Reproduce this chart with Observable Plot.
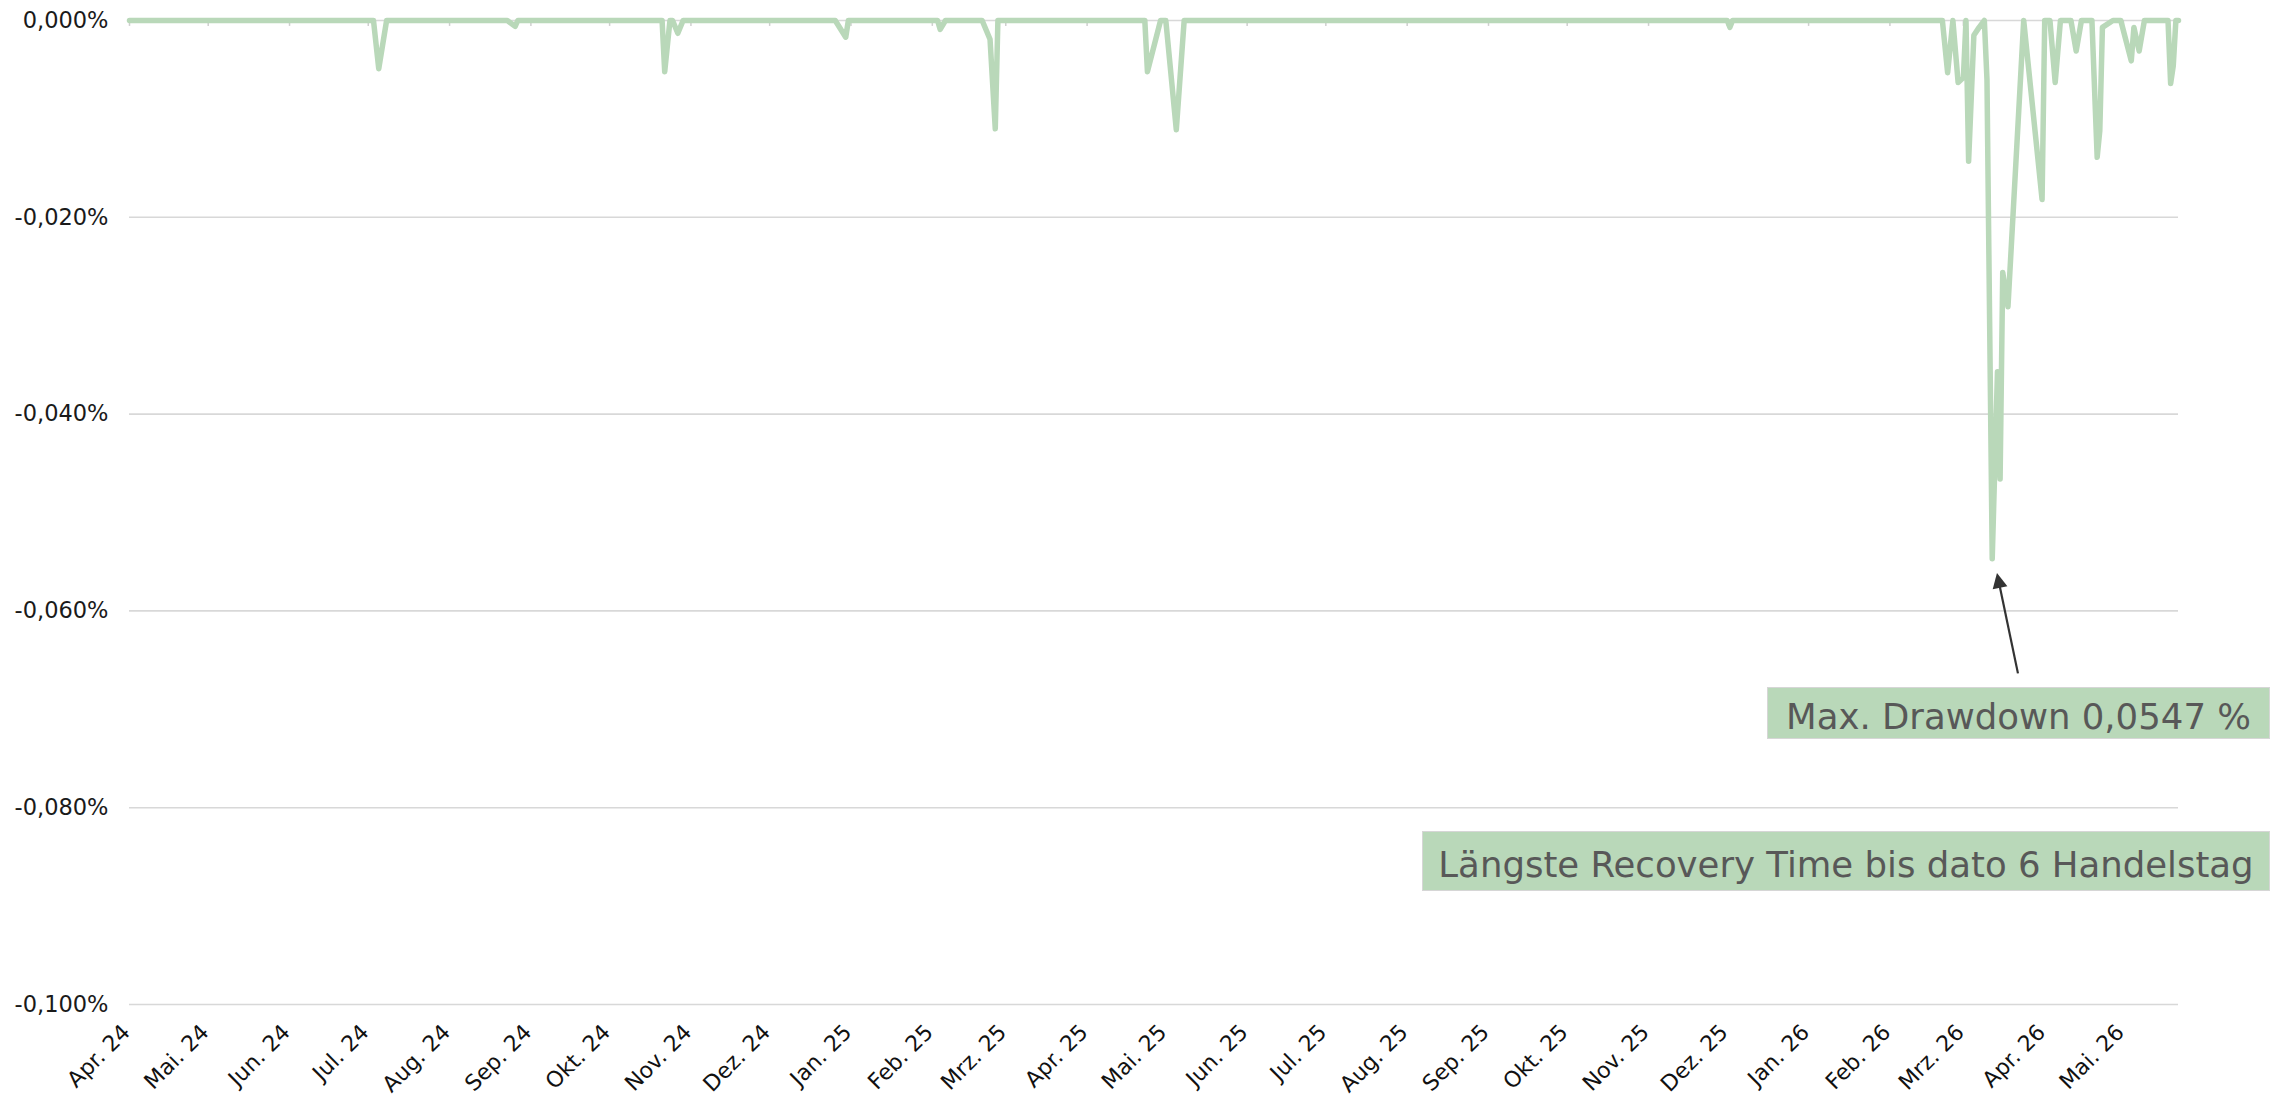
<!DOCTYPE html>
<html><head><meta charset="utf-8">
<script src="https://cdn.jsdelivr.net/npm/d3@7"></script>
<script src="https://cdn.jsdelivr.net/npm/@observablehq/plot@0.6"></script>
<style>
html,body{margin:0;padding:0;background:#fff;}
#wrap{position:relative;width:2271px;height:1102px;overflow:hidden;background:#fff;}
#wrap svg{position:absolute;left:0;top:0;}
.note{position:absolute;box-sizing:border-box;background:#b9d8b9;border:1.5px solid #d6d6d6;color:#585858;font-family:"DejaVu Sans";font-size:35.5px;text-align:center;white-space:nowrap;}
</style></head><body><div id="wrap"></div>
<script>
// Drawdown series (percent), vertices
const dates = [
  "2024-04-01","2024-07-03","2024-07-05","2024-07-08",
  "2024-08-23","2024-08-26","2024-08-27",
  "2024-10-21","2024-10-22","2024-10-24","2024-10-25","2024-10-27","2024-10-29",
  "2024-12-26","2024-12-30","2024-12-31",
  "2025-02-03","2025-02-04","2025-02-06",
  "2025-02-20","2025-02-23","2025-02-25","2025-02-26",
  "2025-04-23","2025-04-24","2025-04-29","2025-05-01","2025-05-05","2025-05-08",
  "2025-12-01","2025-12-02","2025-12-03",
  "2026-02-21","2026-02-23","2026-02-25","2026-02-27","2026-03-01","2026-03-02","2026-03-03",
  "2026-03-05","2026-03-07","2026-03-09","2026-03-10","2026-03-12","2026-03-14","2026-03-15",
  "2026-03-16","2026-03-18","2026-03-24","2026-03-31","2026-04-01","2026-04-03","2026-04-05",
  "2026-04-07","2026-04-11","2026-04-13","2026-04-15","2026-04-19","2026-04-21","2026-04-22",
  "2026-04-23","2026-04-27","2026-04-30","2026-05-04","2026-05-05","2026-05-07","2026-05-09",
  "2026-05-18","2026-05-19","2026-05-20","2026-05-21","2026-05-22"
];
const values = [
  0, 0, -0.0049, 0,
  0, -0.0006, 0,
  0, -0.0052, 0, 0, -0.0013, 0,
  0, -0.0017, 0,
  0, -0.0009, 0,
  0, -0.0019, -0.011, 0,
  0, -0.0052, 0, 0, -0.0111, 0,
  0, -0.0007, 0,
  0, -0.0053, 0, -0.0063, -0.0058, 0, -0.0143,
  -0.0015, -0.0007, 0, -0.006, -0.0547, -0.0357, -0.0466,
  -0.0256, -0.0291, 0, -0.0182, 0, 0, -0.0063,
  0, 0, -0.0031, 0, 0, -0.0139, -0.0112,
  -0.0007, 0, 0, -0.0041, -0.0007, -0.0031, 0,
  0, -0.0064, -0.0046, 0, 0
];
const yTicks = [0, -0.02, -0.04, -0.06, -0.08, -0.1];
const tickLabels = ["Apr. 24","Mai. 24","Jun. 24","Jul. 24","Aug. 24","Sep. 24","Okt. 24","Nov. 24","Dez. 24",
  "Jan. 25","Feb. 25","Mrz. 25","Apr. 25","Mai. 25","Jun. 25","Jul. 25","Aug. 25","Sep. 25","Okt. 25","Nov. 25","Dez. 25",
  "Jan. 26","Feb. 26","Mrz. 26","Apr. 26","Mai. 26"];
const maxDrawdownText = "Max. Drawdown 0,0547 %";
const recoveryText = "Längste Recovery Time bis dato 6 Handelstag";
const arrowTail = {date: "2026-03-22", value: -0.0664};
const arrowTip = {date: "2026-03-14", value: -0.0562};

const data = dates.map((d, i) => ({date: new Date(d), value: values[i]}));
const monthTicks = d3.utcMonth.range(new Date("2024-04-01"), new Date("2026-05-02"));
const monthLabel = d => tickLabels[(d.getUTCFullYear() - 2024) * 12 + d.getUTCMonth() - 3];
const yFmt = d => (d === 0 ? "0,000" : d.toFixed(3).replace(".", ",")) + "%";

function arrowMark(index, scales) {
  const x1 = scales.x(new Date(arrowTail.date)), y1 = scales.y(arrowTail.value);
  const x2 = scales.x(new Date(arrowTip.date)), y2 = scales.y(arrowTip.value);
  const dx = x2 - x1, dy = y2 - y1, L = Math.hypot(dx, dy), ux = dx / L, uy = dy / L;
  const hl = 15, hw = 7.5;
  const bx = x2 - ux * hl, by = y2 - uy * hl;
  const g = d3.create("svg:g");
  g.append("line").attr("x1", x1).attr("y1", y1).attr("x2", bx + ux * 2).attr("y2", by + uy * 2)
    .attr("stroke", "#333").attr("stroke-width", 2.2);
  g.append("path").attr("d", `M${x2},${y2}L${bx - uy * hw},${by + ux * hw}L${bx + uy * hw},${by - ux * hw}Z`)
    .attr("fill", "#333");
  return g.node();
}

const chart = Plot.plot({
  width: 2271,
  height: 1102,
  marginLeft: 129,
  marginRight: 93,
  marginTop: 20,
  marginBottom: 98,
  style: {fontFamily: "DejaVu Sans", background: "transparent", overflow: "visible"},
  x: {type: "utc", domain: [new Date(dates[0]), new Date(dates[dates.length - 1])]},
  y: {domain: [-0.1, 0]},
  marks: [
    Plot.ruleY(yTicks, {stroke: "#d8d8d8", strokeWidth: 1.6}),
    Plot.ruleX(monthTicks, {x: d => d, y1: 0, y2: -0.0006, stroke: "#cfcfcf", strokeWidth: 1.5}),
    Plot.line(data, {x: "date", y: "value", stroke: "#b9d8b9", strokeWidth: 5.5, strokeLinejoin: "round", strokeLinecap: "round"}),
    Plot.axisY({ticks: yTicks, tickSize: 0, tickPadding: 21, tickFormat: yFmt, fontSize: 22.5, fill: "#1a1a1a", label: null}),
    Plot.axisX({ticks: monthTicks, tickSize: 0, tickPadding: 24, tickRotate: -45, dx: -3, tickFormat: monthLabel, fontSize: 22, fill: "#111", label: null}),
    arrowMark
  ]
});

const wrap = document.getElementById("wrap");
wrap.appendChild(chart);

function addNote(text, left, top, width, height, lineHeight) {
  const div = document.createElement("div");
  div.className = "note";
  div.style.left = left + "px";
  div.style.top = top + "px";
  div.style.width = width + "px";
  div.style.height = height + "px";
  div.style.lineHeight = lineHeight + "px";
  div.textContent = text;
  wrap.appendChild(div);
}
addNote(maxDrawdownText, 1767, 687, 503, 52, 57);
addNote(recoveryText, 1422, 831, 848, 60, 65.5);
</script>
</body></html>
